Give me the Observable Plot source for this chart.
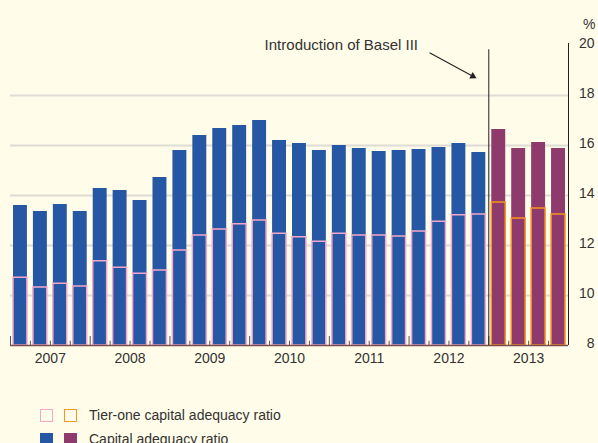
<!DOCTYPE html>
<html>
<head>
<meta charset="utf-8">
<script src="https://cdn.jsdelivr.net/npm/d3@7"></script>
<script src="https://cdn.jsdelivr.net/npm/@observablehq/plot@0.6"></script>
<style>
  html, body { margin: 0; padding: 0; background: #fffce9; width: 598px; height: 443px; overflow: hidden; }
  body { position: relative; font-family: "Liberation Sans", Arial, Helvetica, sans-serif; color: #333; }
  #legend { position: absolute; left: 40px; top: 403px; font-size: 14px; }
  .row { display: flex; align-items: center; height: 24px; }
  .sw { width: 13px; height: 13px; box-sizing: border-box; margin-right: 11px; }
  .lab { margin-left: 1px; }
</style>
</head>
<body>
<div id="chart"></div>
<div id="legend"></div>
<script>
// ---- Data ----
const years = [2007, 2008, 2009, 2010, 2011, 2012, 2013];
const quarterLabels = years.flatMap(y => [1, 2, 3, 4].map(q => `${y}Q${q}`));
const capitalAdequacyRatio = [
  13.6, 13.36, 13.64, 13.36,
  14.28, 14.2, 13.8, 14.72,
  15.8, 16.4, 16.68, 16.8,
  17.0, 16.2, 16.08, 15.8,
  16.0, 15.88, 15.76, 15.8,
  15.84, 15.92, 16.08, 15.72,
  16.64, 15.88, 16.12, 15.88
];
const tierOneRatio = [
  10.71, 10.32, 10.47, 10.36,
  11.37, 11.11, 10.87, 11.0,
  11.8, 12.4, 12.64, 12.85,
  13.0, 12.47, 12.33, 12.15,
  12.47, 12.4, 12.4, 12.36,
  12.56, 12.95, 13.21, 13.24,
  13.72, 13.08, 13.48, 13.24
];
const yTicks = [8, 10, 12, 14, 16, 18, 20];
const gridValues = [10, 12, 14, 16, 18];
const basel3Start = 2013;
const annotationText = "Introduction of Basel III";
const legendLabels = ["Tier-one capital adequacy ratio", "Capital adequacy ratio"];

const colors = {
  basel2Fill: "#2557a5", basel3Fill: "#8e3a6c",
  basel2Stroke: "#f6a7c9", basel3Stroke: "#f7941d"
};

const data = quarterLabels.map((label, i) => {
  const t = +label.slice(0, 4) + (+label.slice(5) - 1) / 4;
  return {
    label, t, t2: t + 0.25,
    capital: capitalAdequacyRatio[i],
    tier: tierOneRatio[i],
    basel3: t >= basel3Start
  };
});
const minorTicks = data.map(d => d.t).filter(t => t % 1 !== 0);
const majorTicks = years;
const yearMids = years.map(y => y + 0.5);

// annotation anchor points (data units)
const arrowStart = {x: 2012.257, y: 19.71};
const arrowEnd = {x: 2012.80, y: 18.77};

const chart = Plot.plot({
  width: 598,
  height: 375,
  marginLeft: 10,
  marginRight: 30,
  marginTop: 45,
  marginBottom: 30,
  style: {background: "#fffce9", fontFamily: "'Liberation Sans', Arial, Helvetica, sans-serif", fontSize: "14px", color: "#333"},
  x: {type: "linear", domain: [2007, 2014]},
  y: {domain: [8, 20]},
  marks: [
    Plot.ruleY(gridValues, {stroke: "#dedcd5", strokeWidth: 2}),
    Plot.rectY(data, {
      x1: "t", x2: "t2", y1: 8, y2: "capital",
      fill: d => d.basel3 ? colors.basel3Fill : colors.basel2Fill,
      insetLeft: 3, insetRight: 3
    }),
    Plot.rectY(data, {
      x1: "t", x2: "t2", y1: 8, y2: "tier",
      fill: "none",
      stroke: d => d.basel3 ? colors.basel3Stroke : colors.basel2Stroke,
      strokeWidth: 1.5,
      insetLeft: 3, insetRight: 3
    }),
    Plot.ruleY([8], {stroke: "#7a4e4e", strokeWidth: 1.5}),
    Plot.ruleX(minorTicks, {y1: 8, y2: 8.17, stroke: "#555", strokeWidth: 1}),
    Plot.ruleX(majorTicks, {y1: 8, y2: 8.36, stroke: "#555", strokeWidth: 1}),
    Plot.ruleX([basel3Start], {y1: 8, y2: 19.83, stroke: "#222", strokeWidth: 1}),
    Plot.ruleX([2014], {y1: 8, y2: 20.08, stroke: "#222", strokeWidth: 1}),
    Plot.text([annotationText], {x: 2011.15, y: 20, textAnchor: "middle", fill: "#333", fontSize: 15}),
    Plot.link([0], {x1: () => arrowStart.x, y1: () => arrowStart.y, x2: () => arrowEnd.x, y2: () => arrowEnd.y, stroke: "#222", strokeWidth: 1.1}),
    Plot.dot([0], {x: () => arrowEnd.x, y: () => arrowEnd.y, symbol: "triangle", r: 2.7, rotate: 118, fill: "#222", stroke: "none"}),
    Plot.axisY({anchor: "right", ticks: yTicks, tickSize: 0, tickPadding: 0, textAnchor: "end", dx: 26, dy: -1.5, fontSize: 14, fill: "#333"}),
    Plot.text(["%"], {frameAnchor: "top-right", dx: 27, dy: -26, textAnchor: "end", fontSize: 14, fill: "#333"}),
    Plot.axisX({ticks: yearMids, tickFormat: d => String(Math.floor(d)), tickSize: 0, tickPadding: 8, fontSize: 14, fill: "#333"})
  ]
});
document.getElementById("chart").appendChild(chart);

// ---- Legend ----
const legend = document.getElementById("legend");
const rows = [
  {label: legendLabels[0], swatches: [
    `border:1.5px solid ${colors.basel2Stroke}`, `border:1.5px solid ${colors.basel3Stroke}`]},
  {label: legendLabels[1], swatches: [
    `background:${colors.basel2Fill}`, `background:${colors.basel3Fill}`]}
];
for (const r of rows) {
  const row = document.createElement("div");
  row.className = "row";
  for (const s of r.swatches) {
    const sw = document.createElement("span");
    sw.className = "sw";
    sw.style.cssText = s;
    row.appendChild(sw);
  }
  const lab = document.createElement("span");
  lab.className = "lab";
  lab.textContent = r.label;
  row.appendChild(lab);
  legend.appendChild(row);
}
</script>
</body>
</html>
